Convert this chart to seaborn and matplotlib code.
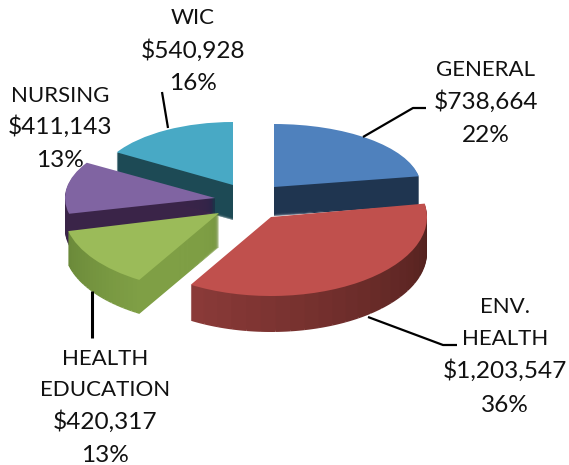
import numpy as np
import matplotlib
matplotlib.use("Agg")
import matplotlib.pyplot as plt
import seaborn as sns

categories = ["GENERAL", "ENV. HEALTH", "HEALTH EDUCATION", "NURSING", "WIC"]
amounts = [738664, 1203547, 420317, 411143, 540928]
percent_labels = ["22%", "36%", "13%", "13%", "16%"]
amount_labels = ["$738,664", "$1,203,547", "$420,317", "$411,143", "$540,928"]

W, H = 569, 465
sns.set_theme(style="white")
plt.rcParams["font.family"] = ["Lato", "DejaVu Sans"]

top_colors = ["#4f81bd", "#c0504d", "#9bbb59", "#8064a2", "#48a9c5"]
wall_first = ["#1f3550", "#4e1f1c", "#7f9f45", "#3a2448", "#1d4a55"]
wall_last = ["#1f3550", "#8a3a38", "#6b8a3a", "#3a2448", "#1d4a55"]
# per-slice ellipse: centre x, centre y, radius x, radius y, depth (pixels)
geometry = {
    "WIC": (233, 185, 136, 63, 35),
    "GENERAL": (274, 187, 147, 63, 29),
    "NURSING": (215, 198, 150, 68, 32),
    "HEALTH EDUCATION": (219, 213, 155, 78, 34),
    "ENV. HEALTH": (271, 217, 156, 79, 36),
}

fig = plt.figure(figsize=(W / 100, H / 100), dpi=100)
total = sum(amounts)
starts = {}
angle = 90.0
for c, a in zip(categories, amounts):
    starts[c] = (angle, a / total)
    angle -= 360 * a / total

def mix(c1, c2, t):
    a = np.array(matplotlib.colors.to_rgb(c1))
    b = np.array(matplotlib.colors.to_rgb(c2))
    return tuple(a * (1 - t) + b * t)

BINS = 24
for name in geometry:
    i = categories.index(name)
    cx, cy, rx, ry, depth = geometry[name]
    start, frac = starts[name]
    ax = fig.add_axes([0, 0, 1, 1])
    ax.patch.set_alpha(0)
    shades = [mix(wall_first[i], wall_last[i], k / (BINS - 1)) for k in range(BINS)]
    for d in np.arange(depth, 0, -1.0):
        ax.pie([frac / BINS] * BINS, colors=shades, startangle=start, counterclock=False,
               normalize=False, center=(0, -d / ry), radius=1,
               wedgeprops={"linewidth": 0.4, "edgecolor": "none"})
    ax.pie([frac], colors=[top_colors[i]], startangle=start, counterclock=False,
           normalize=False, center=(0, 0), radius=1, wedgeprops={"linewidth": 0})
    ax.set_aspect("auto")
    ax.set_xlim(-cx / rx, (W - cx) / rx)
    ax.set_ylim(-(H - cy) / ry, cy / ry)
    ax.axis("off")

ov = fig.add_axes([0, 0, 1, 1])
ov.patch.set_alpha(0)
ov.set_xlim(0, W)
ov.set_ylim(H, 0)
ov.axis("off")

leaders = [
    ([363, 413, 426], [137, 108, 108], 1.6),
    ([368, 443, 457], [317, 345, 345], 1.6),
    ([92, 92], [291, 338], 2.2),
    ([168, 162], [128, 92], 1.6),
]
for xs, ys, lw in leaders:
    ov.plot(xs, ys, color="black", lw=lw, solid_capstyle="butt")

FS_NAME = 16.0
FS_NUM = 17.6
def lines(x, ys, texts):
    for y, t in zip(ys, texts):
        size = FS_NUM if t[0] == "$" or t[0].isdigit() else FS_NAME
        ov.text(x, y + 2, t, ha="center", va="center", fontsize=size, color="#111111")

lines(486, [68, 100, 133], ["GENERAL", amount_labels[0], percent_labels[0]])
lines(505, [305, 337, 369, 403], ["ENV.", "HEALTH", amount_labels[1], percent_labels[1]])
lines(105, [357, 388, 420, 453], ["HEALTH", "EDUCATION", amount_labels[2], percent_labels[2]])
lines(60, [94, 125, 158], ["NURSING", amount_labels[3], percent_labels[3]])
lines(193, [16, 49, 82], ["WIC", amount_labels[4], percent_labels[4]])

fig.savefig("out.png", dpi=100, facecolor="white")
